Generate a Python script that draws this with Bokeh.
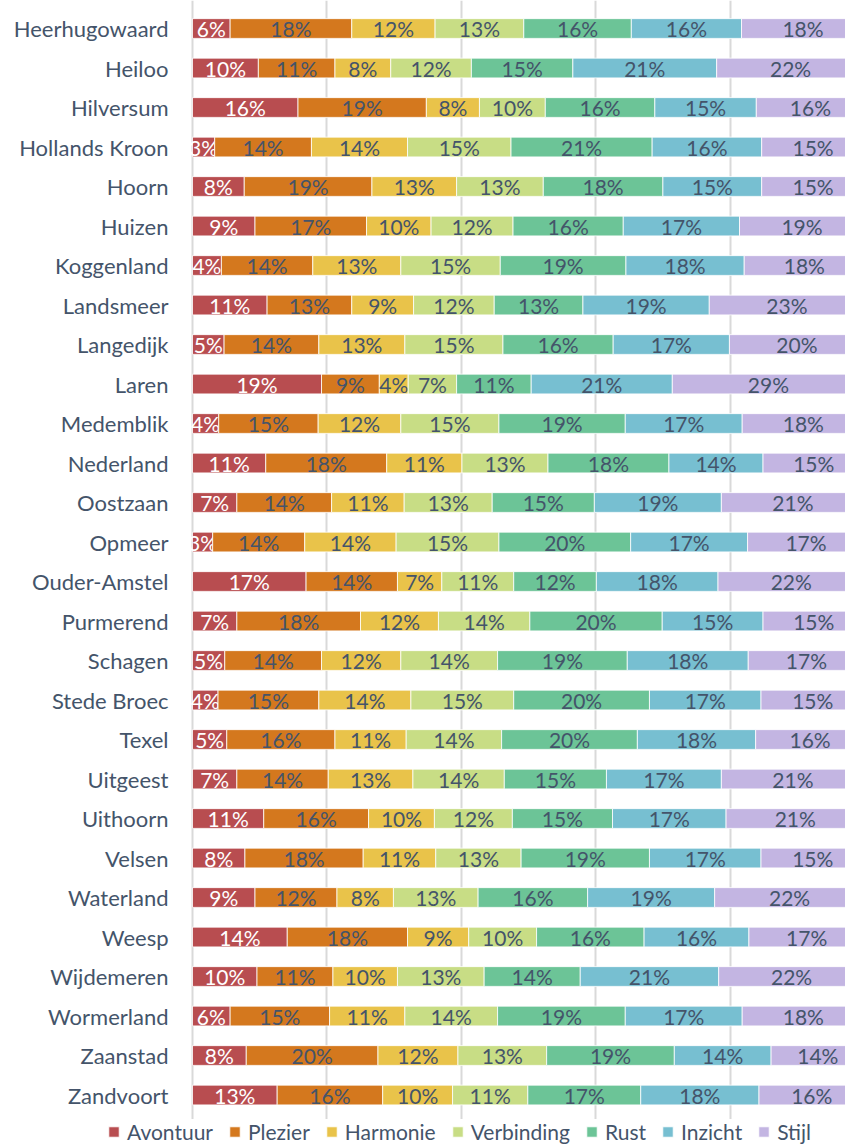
from bokeh.plotting import figure
from bokeh.models import Range1d, ColumnDataSource, FixedTicker, Legend, LegendItem, Grid
from bokeh.core.properties import value
from bokeh.embed import file_html
from bokeh.resources import INLINE

gemeenten = ["Heerhugowaard", "Heiloo", "Hilversum", "Hollands Kroon", "Hoorn", "Huizen",
             "Koggenland", "Landsmeer", "Langedijk", "Laren", "Medemblik", "Nederland",
             "Oostzaan", "Opmeer", "Ouder-Amstel", "Purmerend", "Schagen", "Stede Broec",
             "Texel", "Uitgeest", "Uithoorn", "Velsen", "Waterland", "Weesp", "Wijdemeren",
             "Wormerland", "Zaanstad", "Zandvoort"]

series = ["Avontuur", "Plezier", "Harmonie", "Verbinding", "Rust", "Inzicht", "Stijl"]

avontuur   = [5.6, 9.8, 15.7, 3.3, 7.7, 9.3, 4.3, 11.1, 4.7, 19.2, 3.9, 10.9, 6.6, 3.0,
              16.9, 6.6, 4.8, 3.8, 5.1, 6.6, 10.6, 7.8, 9.3, 14.1, 9.6, 5.6, 8.0, 12.6]
plezier    = [18.1, 11.4, 19.1, 14.4, 19.0, 16.6, 13.6, 12.6, 14.1, 8.6, 14.8, 18.0, 14.1, 13.7,
              13.6, 18.4, 14.4, 15.0, 16.1, 13.6, 15.6, 17.6, 12.2, 17.9, 11.3, 14.8, 19.6, 15.7]
harmonie   = [12.4, 8.3, 7.9, 14.3, 12.6, 9.6, 13.1, 9.2, 12.8, 4.3, 12.3, 11.2, 10.8, 13.6,
              6.6, 11.6, 11.8, 13.7, 10.6, 12.6, 9.8, 10.8, 8.4, 9.1, 9.6, 11.2, 11.9, 10.4]
verbinding = [13.2, 12.0, 9.8, 15.4, 12.9, 12.2, 14.8, 12.0, 14.6, 7.2, 14.6, 12.8, 13.1, 15.3,
              10.7, 13.6, 14.4, 15.3, 14.2, 13.6, 11.6, 12.7, 12.6, 10.1, 12.9, 13.8, 13.2, 11.2]
rust       = [16.0, 15.1, 16.3, 21.0, 17.8, 16.4, 18.7, 13.2, 16.4, 11.1, 18.8, 18.0, 15.2, 19.6,
              12.3, 19.7, 19.3, 20.2, 20.2, 15.2, 14.9, 19.1, 16.3, 16.0, 14.3, 19.0, 19.0, 16.8]
inzicht    = [16.4, 21.4, 15.1, 16.3, 14.7, 17.3, 17.6, 18.8, 17.3, 21.0, 17.4, 14.0, 18.9, 17.4,
              18.1, 15.0, 18.0, 16.6, 17.6, 17.1, 16.9, 16.6, 18.9, 15.6, 20.6, 17.4, 14.4, 17.6]
stijl      = [18.3, 22.0, 16.1, 15.3, 15.3, 18.6, 17.9, 23.1, 20.1, 28.6, 18.2, 15.1, 21.3, 17.4,
              21.8, 15.1, 17.3, 15.4, 16.2, 21.3, 20.6, 15.4, 22.3, 17.2, 21.7, 18.2, 13.9, 15.7]

grid_ticks = [0, 20, 40, 60, 80]

colors = ["#B84D50", "#D4781E", "#E9C34A", "#C8DD85", "#6CC497", "#77BFD1", "#C3B5E2"]
label_colors = ["#FFFFFF", "#44546A", "#44546A", "#44546A", "#44546A", "#44546A", "#44546A"]
TEXT = "#44546A"
FONT = "Lato"

all_vals = [avontuur, plezier, harmonie, verbinding, rust, inzicht, stijl]
N = len(gemeenten)

# layout geometry (pixels)
W, H = 845, 1144
ZERO_PX = 192          # x pixel of the 0% line
PX_PER_PCT = 6.72      # pixels per percentage point (100% lies beyond the right edge)
ROW0_PX = 28           # y pixel of the first row's centre
BAND_PX = 39.5         # height per category row

x_start = -ZERO_PX / PX_PER_PCT
x_end = (W - ZERO_PX) / PX_PER_PCT
y_end = (N - 1) + ROW0_PX / BAND_PX
y_start = y_end - H / BAND_PX

p = figure(width=W, height=H,
           x_range=Range1d(x_start, x_end), y_range=Range1d(y_start, y_end),
           x_axis_location=None, y_axis_location=None,
           output_backend="svg", toolbar_location=None,
           min_border_left=0, min_border_right=0, min_border_top=0, min_border_bottom=0)

p.outline_line_color = None
p.xgrid.visible = False
p.ygrid.visible = False
p.add_layout(Grid(dimension=0, ticker=FixedTicker(ticks=grid_ticks),
                  grid_line_color="#D9D9D9", grid_line_width=2))

ypos = [N - 1 - i for i in range(N)]

# category names
p.text(x=[0] * N, y=ypos, text=gemeenten, x_offset=-24,
       text_font=value(FONT), text_font_size=value("22px"),
       text_align="right", text_baseline="middle", text_color=TEXT)

left = [0.0] * N
items = []
for name, vals, col, lcol in zip(series, all_vals, colors, label_colors):
    right = [l + v for l, v in zip(left, vals)]
    src = ColumnDataSource(dict(
        y=ypos, left=left, right=right,
        cx=[(l + r) / 2 for l, r in zip(left, right)],
        lbl=["%d%%" % int(v + 0.5) for v in vals]))
    r = p.hbar(y="y", left="left", right="right", height=0.5, source=src,
               fill_color=col, line_color="white", line_width=0.8)
    p.text(x="cx", y="y", text="lbl", source=src, text_font=value(FONT),
           text_font_size=value("21px"), text_align="center", text_baseline="middle",
           text_color=lcol)
    items.append(LegendItem(label=name, renderers=[r]))
    left = right

legend = Legend(items=items, orientation="horizontal", location=(107, 0),
                glyph_width=13, glyph_height=13, label_standoff=7, spacing=15,
                padding=3, margin=0, label_height=22,
                label_text_font=FONT, label_text_font_size="21px", label_text_color=TEXT,
                border_line_color=None, background_fill_color="white",
                background_fill_alpha=1)
p.add_layout(legend, "center")

open("out.html", "w").write(file_html(p, INLINE))
